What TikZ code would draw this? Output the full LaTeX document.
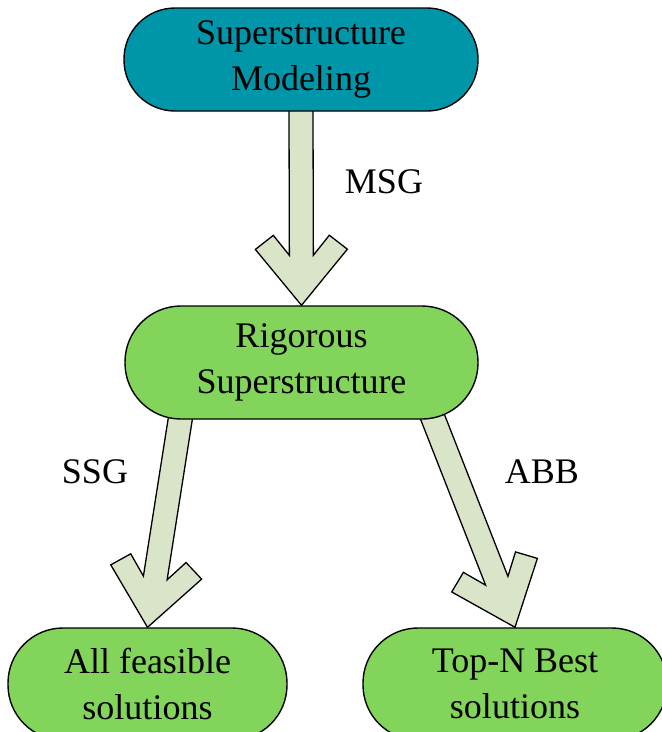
\documentclass[tikz,border=0pt]{standalone}
\usepackage{fontspec}
\setmainfont{Liberation Serif}
\usetikzlibrary{calc,backgrounds}

\definecolor{boxteal}{RGB}{0,150,170}
\definecolor{boxgreen}{RGB}{131,212,90}
\definecolor{arrowsage}{RGB}{218,228,200}

\tikzset{
  stadium/.style={draw=black, line width=1.4pt, align=center, inner sep=0pt,
    font=\fontsize{36}{46}\selectfont, text=black},
  fatarrow/.style={draw=black, line width=1.3pt, fill=arrowsage, line join=miter},
  lbl/.style={font=\fontsize{36}{46}\selectfont, inner sep=0pt, text=black}
}

% Block arrow with a chevron head: #1 = start of the shaft, #2 = tip
\newcommand\blockarrow[2]{%
  \coordinate (fa-s) at ($(#1)!-30pt!(#2)$);
  \coordinate (fa-i) at ($(#2)!50pt!(fa-s)$);
  \coordinate (fa-u) at ($(#2)!70pt!(fa-s)$);
  \coordinate (fa-o) at ($(#2)!56pt!(fa-s)$);
  \draw[fatarrow]
    ($(fa-s)!12pt!90:(#2)$) -- ($(fa-i)!12pt!90:(#2)$) --
    ($(fa-u)!28pt!90:(#2)$) -- ($(fa-o)!46pt!90:(#2)$) -- (#2) --
    ($(fa-o)!46pt!-90:(#2)$) -- ($(fa-u)!28pt!-90:(#2)$) --
    ($(fa-i)!12pt!-90:(#2)$) -- ($(fa-s)!12pt!-90:(#2)$) -- cycle;
}

\begin{document}
\begin{tikzpicture}[x=1pt, y=-1pt]
  \useasboundingbox (0,0) rectangle (662,732);

  % process boxes
  \node[stadium, fill=boxteal, minimum width=354pt, minimum height=103pt,
        rounded corners=51pt] (model) at (301,59.5) {Superstructure\\Modeling};
  \node[stadium, fill=boxgreen, minimum width=353pt, minimum height=113pt,
        rounded corners=56pt] (rig) at (301.5,362.5) {Rigorous\\Superstructure};
  \node[stadium, fill=boxgreen, minimum width=279pt, minimum height=112pt,
        rounded corners=55pt] (all) at (147.5,684) {All feasible\\solutions};
  \node[stadium, fill=boxgreen, minimum width=304pt, minimum height=112pt,
        rounded corners=55pt] (top) at (515,684) {Top-N Best\\solutions};

  % method labels
  \node[lbl] (msg) at (384,182) {MSG};
  \node[lbl] (ssg) at (95,472) {SSG};
  \node[lbl] (abb) at (542,472) {ABB};

  % shaft starts on the lower edge of the rigorous superstructure
  \coordinate (ssgstart) at ($(rig.south)+(-121.5,1)$);
  \coordinate (abbstart) at ($(rig.south)+(132.5,1)$);

  \begin{scope}[on background layer]
    \blockarrow{model.south}{rig.north}
    \blockarrow{ssgstart}{all.north}
    \blockarrow{abbstart}{top.north}
  \end{scope}
\end{tikzpicture}
\end{document}
